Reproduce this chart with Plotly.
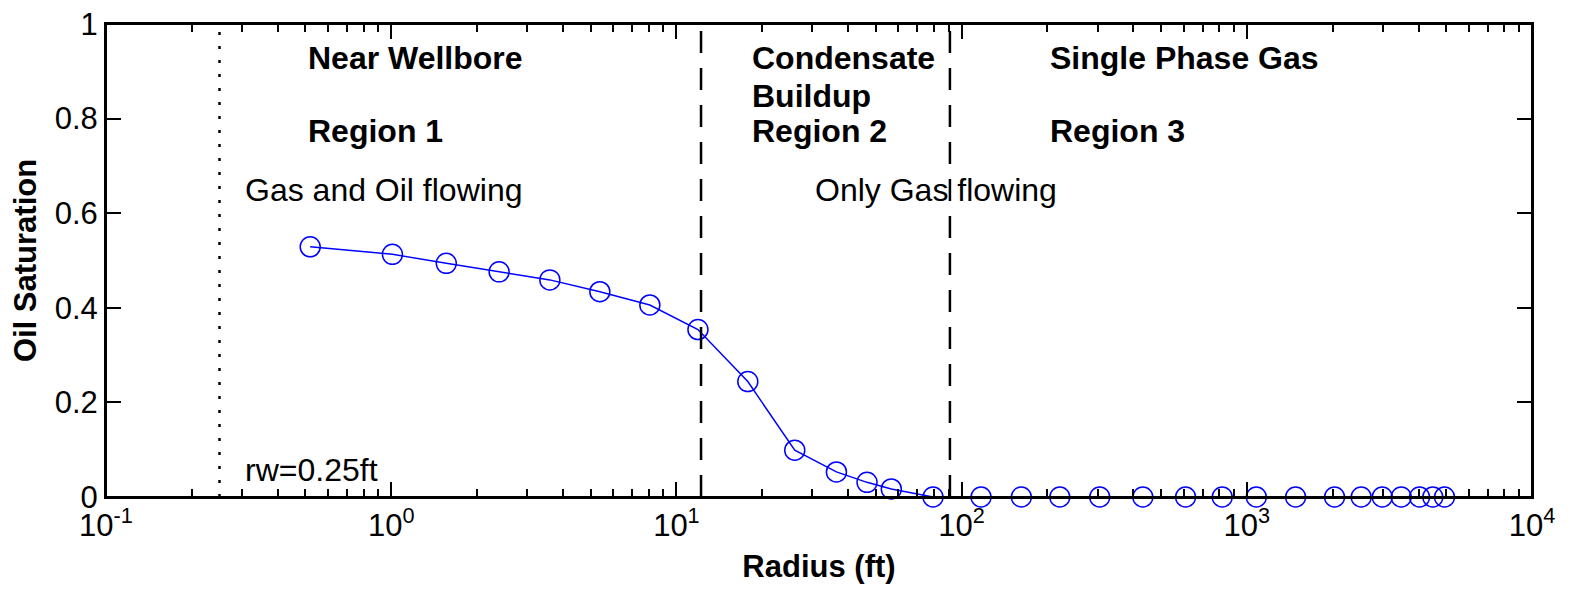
import plotly.graph_objects as go

# ---- data ----
radius_ft = [0.52, 1.01, 1.56, 2.39, 3.60, 5.39, 8.07, 11.9, 17.8, 26.0,
             36.4, 46.6, 56.7, 79.4, 117, 162, 221, 305, 432, 610,
             820, 1080, 1483, 2031, 2518, 2985, 3479, 4034, 4490, 4934]
oil_saturation = [0.529, 0.513, 0.494, 0.476, 0.459, 0.434, 0.406, 0.354, 0.244, 0.099,
                  0.053, 0.031, 0.017, 0.0, 0.0, 0.0, 0.0, 0.0, 0.0, 0.0,
                  0.0, 0.0, 0.0, 0.0, 0.0, 0.0, 0.0, 0.0, 0.0, 0.0]

rw_ft = 0.25
region1_end_ft = 12.2
region2_end_ft = 91.0

x_tick_vals = [0.1, 1, 10, 100, 1000, 10000]
x_tick_text = ["10<sup>-1</sup>", "10<sup>0</sup>", "10<sup>1</sup>",
               "10<sup>2</sup>", "10<sup>3</sup>", "10<sup>4</sup>"]
x_minor_vals = [m * d for d in [0.1, 1, 10, 100, 1000] for m in range(2, 10)]
y_tick_vals = [0, 0.2, 0.4, 0.6, 0.8, 1]
y_tick_text = ["0", "0.2", "0.4", "0.6", "0.8", "1"]

FONT = "Liberation Sans, Arial, Helvetica, sans-serif"

fig = go.Figure()
fig.add_trace(go.Scatter(
    x=radius_ft, y=oil_saturation, mode="lines+markers",
    line=dict(color="#0000ff", width=1.5),
    marker=dict(symbol="circle-open", size=20, color="#0000ff", line=dict(width=1.5)),
    showlegend=False, cliponaxis=False,
))

# frame around the plot area
fig.add_shape(type="rect", xref="paper", yref="paper", x0=0, x1=1, y0=0, y1=1,
              line=dict(color="black", width=2), fillcolor="rgba(0,0,0,0)", layer="above")

# vertical region boundaries
fig.add_shape(type="line", xref="x", yref="paper", x0=rw_ft, x1=rw_ft, y0=0, y1=0.985,
              line=dict(color="black", width=2.5, dash="3px,11px"))
for xb in [region1_end_ft, region2_end_ft]:
    fig.add_shape(type="line", xref="x", yref="paper", x0=xb, x1=xb, y0=0, y1=1,
                  line=dict(color="black", width=2.5, dash="22px,15px"))

def note(text, xlog, y, bold=True):
    fig.add_annotation(x=xlog, y=y, xref="x", yref="y", text=f"<b>{text}</b>" if bold else text,
                       showarrow=False, xanchor="left", yanchor="middle",
                       font=dict(family=FONT, size=32, color="black"))

note("Near Wellbore", -0.30, 0.928)
note("Region 1", -0.30, 0.774)
note("Gas and Oil flowing", -0.52, 0.649, bold=False)
note("Condensate", 1.257, 0.928)
note("Buildup", 1.257, 0.848)
note("Region 2", 1.257, 0.774)
note("Only Gas flowing", 1.478, 0.649, bold=False)
note("Single Phase Gas", 2.302, 0.928)
note("Region 3", 2.302, 0.774)
note("rw=0.25ft", -0.52, 0.057, bold=False)

fig.update_xaxes(
    type="log", range=[-1, 4], automargin=False, ticklabeloverflow="allow",
    tickvals=x_tick_vals, ticktext=x_tick_text,
    ticks="inside", ticklen=15, tickwidth=1.5, tickcolor="black",
    minor=dict(tickvals=x_minor_vals, ticks="inside", ticklen=8, tickwidth=1.5, tickcolor="black"),
    showline=True, linecolor="black", linewidth=2, mirror="allticks",
    showgrid=False, zeroline=False,
    tickfont=dict(family=FONT, size=31, color="black"),
    title=dict(text="<b>Radius (ft)</b>", font=dict(family=FONT, size=31, color="black"), standoff=13),
)
fig.update_yaxes(
    range=[0, 1], automargin=False, ticklabeloverflow="allow",
    tickvals=y_tick_vals, ticktext=y_tick_text,
    ticks="inside", ticklen=15, tickwidth=1.5, tickcolor="black",
    showline=True, linecolor="black", linewidth=2, mirror="allticks",
    showgrid=False, zeroline=False,
    tickfont=dict(family=FONT, size=31, color="black"),
    title=dict(text="<b>Oil Saturation</b>", font=dict(family=FONT, size=31, color="black"), standoff=10),
)
# the page body adds an 8px margin, so the figure is sized to fit the window with it
fig.update_layout(
    width=1556, height=577,
    margin=dict(l=98, r=32, t=16, b=88, autoexpand=False),
    paper_bgcolor="white", plot_bgcolor="white",
    font=dict(family=FONT, color="black"),
)

fig.write_html("out.html")
